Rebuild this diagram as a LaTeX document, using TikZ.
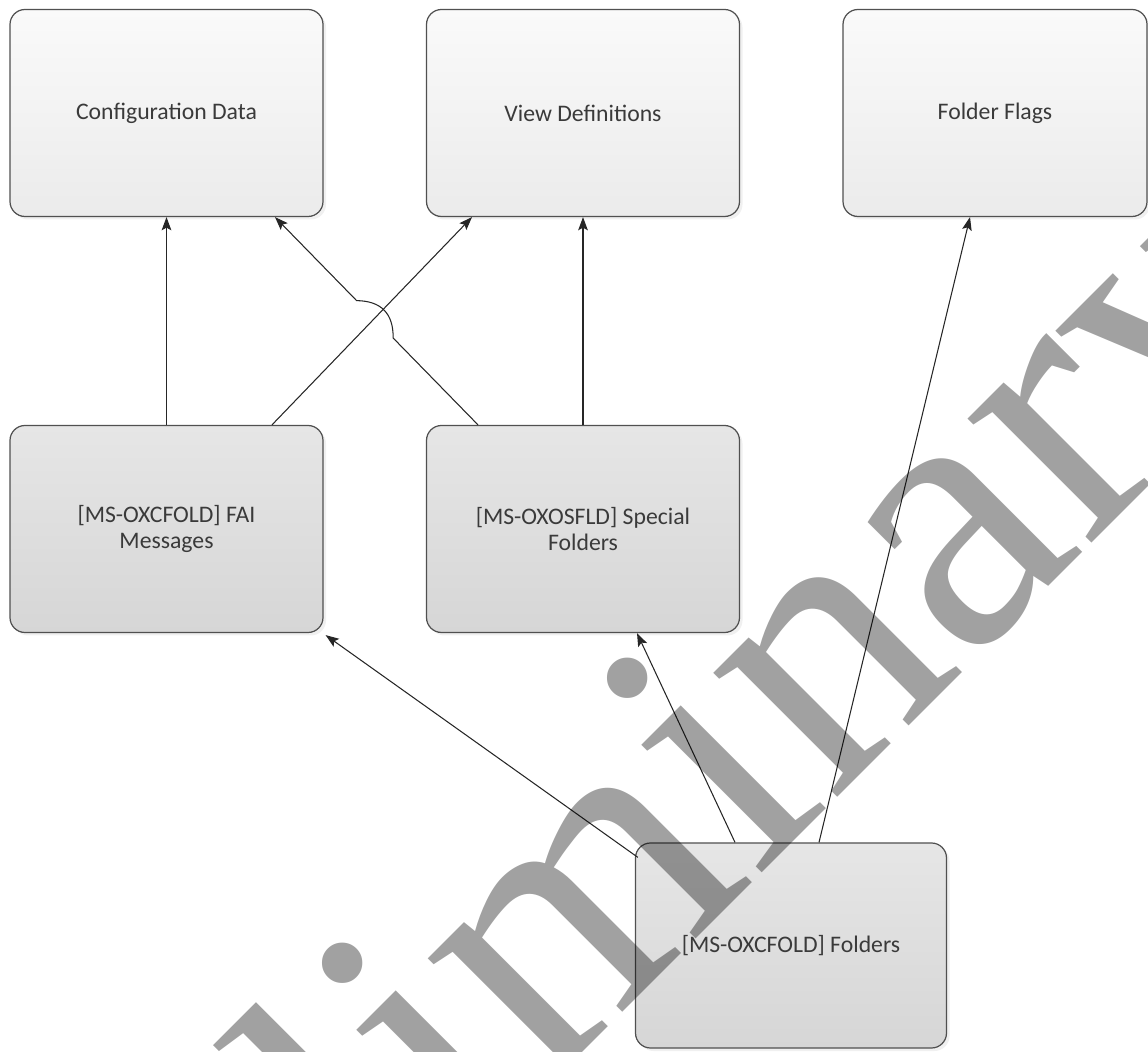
\documentclass[tikz,border=0pt]{standalone}
\usepackage{fontspec}
\setmainfont{Carlito}
\newfontfamily\wmfont{Liberation Serif}
\usetikzlibrary{arrows.meta,calc,shadows}
\definecolor{edgegray}{HTML}{505050}
\definecolor{textgray}{HTML}{3A3A3A}
\definecolor{lighttop}{HTML}{FAFAFA}
\definecolor{lightbot}{HTML}{EBEBEB}
\definecolor{darktop}{HTML}{E6E6E6}
\definecolor{darkbot}{HTML}{D6D6D6}
\begin{document}
\begin{tikzpicture}[
    box/.style={draw=edgegray, line width=0.7pt, rounded corners=0.3cm, minimum width=6.26cm, minimum height=4.14cm,
      inner sep=0pt, align=center, text=textgray, font=\fontsize{13.5}{14.8}\selectfont,
      drop shadow={opacity=0.12, shadow xshift=0.06cm, shadow yshift=-0.06cm}},
    lightbox/.style={box, top color=lighttop, bottom color=lightbot},
    darkbox/.style={box, top color=darktop, bottom color=darkbot},
    conn/.style={draw=black!85, line width=0.6pt, -{Stealth[length=7.5pt,width=5.5pt,inset=1.5pt]}}]
  \useasboundingbox (0,0) rectangle (22.96,21.02);
  \node[lightbox] (conf) at (3.33,18.76) {Configuration Data};
  \node[lightbox] (view) at (11.66,18.76) {View Definitions};
  \node[lightbox, minimum width=6.08cm] (flags) at (19.9,18.76) {Folder Flags};
  \node[darkbox] (fai) at (3.33,10.44) {[MS-OXCFOLD] FAI\\Messages};
  \node[darkbox] (spec) at (11.66,10.44) {[MS-OXOSFLD] Special\\Folders};
  \node[darkbox, minimum width=6.22cm, minimum height=4.1cm] (fold) at (15.82,2.11) {[MS-OXCFOLD] Folders};
  \coordinate (sfrom) at ($(spec.north)+(-2.1,0)$);
  \coordinate (sto) at ($(conf.south)+(2.17,0)$);
  \draw[conn] (fai.north) -- (conf.south);
  \draw[conn] ($(fai.north)+(2.11,0)$) -- ($(view.south)+(-2.22,0)$);
  \draw[conn] (sfrom) -- ($(sfrom)!0.418!(sto)$) to[bend right=45, looseness=1.2] ($(sfrom)!0.598!(sto)$) -- (sto);
  \draw[conn] (spec.north) -- (view.south);
  \draw[conn] ($(fold.north)+(-1.12,0)$) -- ($(spec.south)+(1.08,0)$);
  \draw[conn] ($(fold.north)+(0.56,0)$) -- ($(flags.south)+(-0.5,0)$);
  \draw[conn] ($(fold.north west)+(0.06,-0.3)$) -- ($(fai.south east)+(0.04,-0.04)$);
  \node[font=\wmfont\fontsize{217.4}{217.4}\selectfont, text=black, text opacity=0.37, rotate=45,
    anchor=base west, inner sep=0pt] (wm) at (0.712,-10.96) {Preliminary};
\end{tikzpicture}
\end{document}
